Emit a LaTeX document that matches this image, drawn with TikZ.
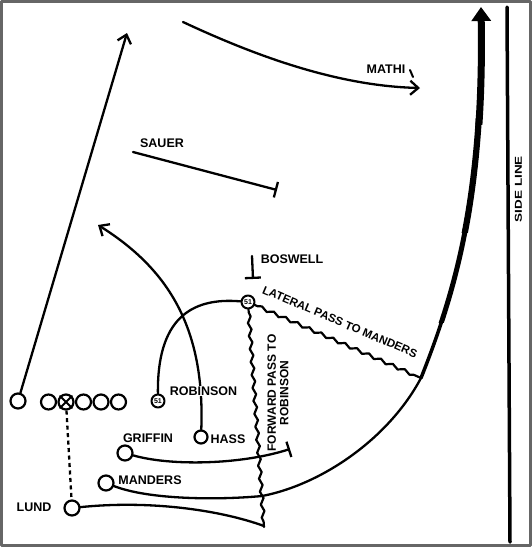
\documentclass[tikz,border=0pt]{standalone}
\usepackage{fontspec}
\setmainfont{Liberation Sans}
\usetikzlibrary{arrows.meta,decorations.pathmorphing}
\begin{document}
\begin{tikzpicture}[x=1pt,y=-1pt,
  line cap=round, line join=round,
  pl/.style={circle, draw, line width=2.2pt, minimum size=15pt, inner sep=0pt, fill=white},
  num/.style={circle, draw, line width=2pt, minimum size=13pt, inner sep=0pt, fill=white, font=\bfseries\fontsize{7}{7}\selectfont},
  lbl/.style={font=\bfseries\fontsize{12.5}{12.5}\selectfont, inner sep=1pt},
  route/.style={line width=2.3pt},
  wavy/.style={line width=2.2pt, decorate, decoration={snake, amplitude=1.6pt, segment length=13pt, pre length=3pt, post length=3pt}},
  barb/.style={-{Straight Barb[length=8pt,width=14pt]}},
  tee/.style={-{Bar[width=16pt]}},
]
\useasboundingbox (0,0) rectangle (532,547);
\draw[black!60, line width=3pt] (1.5,1.5) rectangle (530.5,545.5);

% players
\node[pl] (o1) at (18,401) {};
\node[pl] (o2) at (48.5,402) {};
\node[pl] (o3) at (66,402) {};
\node[pl] (o4) at (83.5,402) {};
\node[pl] (o5) at (101,402) {};
\node[pl] (o6) at (118.5,402) {};
\draw[line width=1.8pt] (o3.north west) -- (o3.south east) (o3.north east) -- (o3.south west);
\node[num] (rob) at (158,401) {51};
\node[num] (ball) at (248,302) {51};
\node[pl, minimum size=13pt] (hass) at (201,437) {};
\node[pl] (griffin) at (125,453) {};
\node[pl] (manders) at (106,483) {};
\node[pl] (lund) at (72,508) {};

% free ends
\coordinate (upTip) at (127,33);
\coordinate (hassTip) at (98,225);
\coordinate (sauerA) at (133,152);
\coordinate (sauerB) at (277,190);
\coordinate (mathiA) at (183,22);
\coordinate (mathiB) at (420,88);
\coordinate (bosA) at (252,256);
\coordinate (bosB) at (253,279);
\coordinate (griffEnd) at (290,449);
\coordinate (lundEnd) at (264,526);
\coordinate (mandMid) at (262,496);
\coordinate (pitch) at (421,378);
\coordinate (runTip) at (481,7);
\coordinate (sideTop) at (507,7);
\coordinate (sideBot) at (510,542);
\coordinate (fwdEnd) at (264,527);
\coordinate (tickA) at (410,70);
\coordinate (tickB) at (413,77);

% routes
\draw[route, barb] (o1) -- (upTip);
\draw[route, barb] (hass) .. controls (205,330) and (170,270) .. (hassTip);
\draw[route] (rob) .. controls (157,320) and (190,297) .. (ball);
\draw[route, barb] (mathiA) .. controls (260,58) and (340,86) .. (mathiB);
\draw[route, line width=2pt] (tickA) -- (tickB);
\draw[route, tee] (sauerA) -- (sauerB);
\draw[route, tee] (bosA) -- (bosB);
\draw[route, dash pattern=on 4pt off 3.5pt, line cap=butt] (o3) -- (lund);
\draw[route, tee] (griffin) .. controls (170,466) and (240,465) .. (griffEnd);
\draw[route] (lund) .. controls (150,500) and (220,510) .. (lundEnd);
\draw[route] (manders) .. controls (150,500) and (220,500) .. (mandMid) .. controls (320,485) and (388,440) .. (pitch);
\draw[wavy] (ball) -- (fwdEnd);
\draw[wavy] (ball) -- (pitch);

% thick run to the side line, widening upwards
\def\runcurve{(pitch) .. controls (458,285) and (484,190) .. (runTip)}
\begin{scope}\clip (400,316) rectangle (500,400);
\draw[line width=3.5pt] \runcurve; \end{scope}
\begin{scope}\clip (400,226) rectangle (500,322);
\draw[line width=5pt, line cap=butt] \runcurve; \end{scope}
\begin{scope}\clip (400,118) rectangle (500,232);
\draw[line width=6.2pt, line cap=butt] \runcurve; \end{scope}
\begin{scope}\clip (400,0) rectangle (500,124);
\draw[line width=7pt, line cap=butt, -{Triangle[length=14pt,width=19pt]}] \runcurve; \end{scope}

% side line
\draw[line width=3.5pt] (sideTop) -- (sideBot);

% labels
\node[lbl] (tLund) at (34,507) {LUND};
\node[lbl] (tManders) at (150,480) {MANDERS};
\node[lbl] (tGriffin) at (148,438) {GRIFFIN};
\node[lbl] (tHass) at (228,439) {HASS};
\node[lbl, fill=white] (tRobinson) at (203.5,391) {ROBINSON};
\node[lbl] (tBoswell) at (292,259) {BOSWELL};
\node[lbl] (tSauer) at (162,143) {SAUER};
\node[lbl] (tMathi) at (386,69) {MATHI};
\node[lbl, font=\bfseries\fontsize{11.5}{11.5}\selectfont, rotate=-23] (tLateral) at (340,322) {LATERAL PASS TO MANDERS};
\node[lbl, rotate=90, align=center, font=\bfseries\fontsize{12}{12.5}\selectfont] (tForward) at (278,393) {FORWARD PASS TO\\ROBINSON};
\node[lbl, rotate=90, font=\bfseries\fontsize{10}{10}\selectfont] (tSide) at (518.5,189) {\scalebox{1.35}[1]{SIDE LINE}};
\end{tikzpicture}
\end{document}
